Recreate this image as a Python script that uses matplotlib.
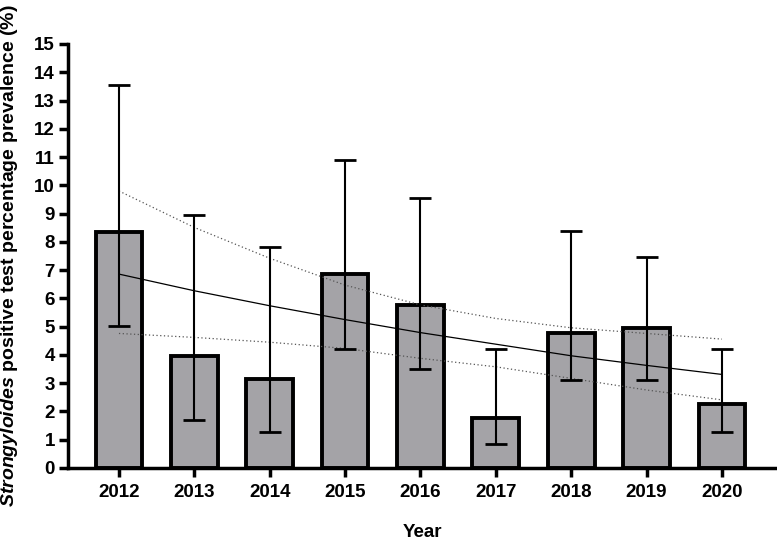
import matplotlib

matplotlib.use("Agg")
import matplotlib.pyplot as plt
import numpy as np

# values
years = ["2012", "2013", "2014", "2015", "2016", "2017", "2018", "2019", "2020"]
prevalence = [8.35, 3.95, 3.15, 6.85, 5.75, 1.77, 4.77, 4.95, 2.25]
ci_low = [5.03, 1.71, 1.26, 4.22, 3.50, 0.85, 3.12, 3.12, 1.26]
ci_high = [13.55, 8.95, 7.82, 10.88, 9.55, 4.22, 8.40, 7.48, 4.22]

trend = [6.86, 6.27, 5.74, 5.25, 4.79, 4.38, 3.97, 3.63, 3.31]
trend_upper = [9.80, 8.51, 7.42, 6.47, 5.77, 5.29, 4.96, 4.76, 4.56]
trend_lower = [4.76, 4.62, 4.45, 4.23, 3.88, 3.58, 3.17, 2.76, 2.41]

plt.rcParams["font.family"] = ["Liberation Sans", "DejaVu Sans"]
plt.rcParams["font.weight"] = "bold"
plt.rcParams["mathtext.fontset"] = "custom"
plt.rcParams["mathtext.it"] = "Liberation Sans:italic:bold"
plt.rcParams["mathtext.rm"] = "Liberation Sans:bold"

fig = plt.figure(figsize=(7.77, 5.40), dpi=100)
ax = fig.add_axes([68 / 777, 1 - 468 / 540, 709 / 777, 424 / 540])

x = np.arange(len(years))
vals = np.array(prevalence)
yerr = [vals - np.array(ci_low), np.array(ci_high) - vals]

ax.bar(x, vals, width=0.62, color="#a4a3a7", edgecolor="black", linewidth=2.8, zorder=2)
ax.errorbar(x, vals, yerr=yerr, fmt="none", ecolor="black", elinewidth=1.5,
            capsize=8, capthick=2.0, zorder=4)

ax.plot(x, trend, color="black", linewidth=0.9, zorder=3)
ax.plot(x, trend_upper, color="#555555", linewidth=0.9, linestyle=(0, (1, 2)), zorder=3)
ax.plot(x, trend_lower, color="#555555", linewidth=0.9, linestyle=(0, (1, 2)), zorder=3)

ax.set_xlim(-0.676, 8.73)
ax.set_ylim(0, 15)
ax.set_yticks(range(0, 16))
ax.set_xticks(x)
ax.set_xticklabels(years)

for side in ["top", "right"]:
    ax.spines[side].set_visible(False)
for side in ["left", "bottom"]:
    ax.spines[side].set_linewidth(2.5)

ax.tick_params(axis="both", length=6.5, width=2.5, labelsize=13.5)
ax.tick_params(axis="y", pad=3)
ax.tick_params(axis="x", pad=5)

ax.set_xlabel("Year", fontsize=13.5, fontweight="bold")
ax.xaxis.set_label_coords(0.5, -0.132)
ax.xaxis.label.set_va("top")
ax.set_ylabel(r"$\mathit{Strongyloides}$ positive test percentage prevalence (%)",
              fontsize=14, fontweight="bold")
ax.yaxis.set_label_coords(-0.068, 0.5)

fig.savefig("out.png", dpi=100)
